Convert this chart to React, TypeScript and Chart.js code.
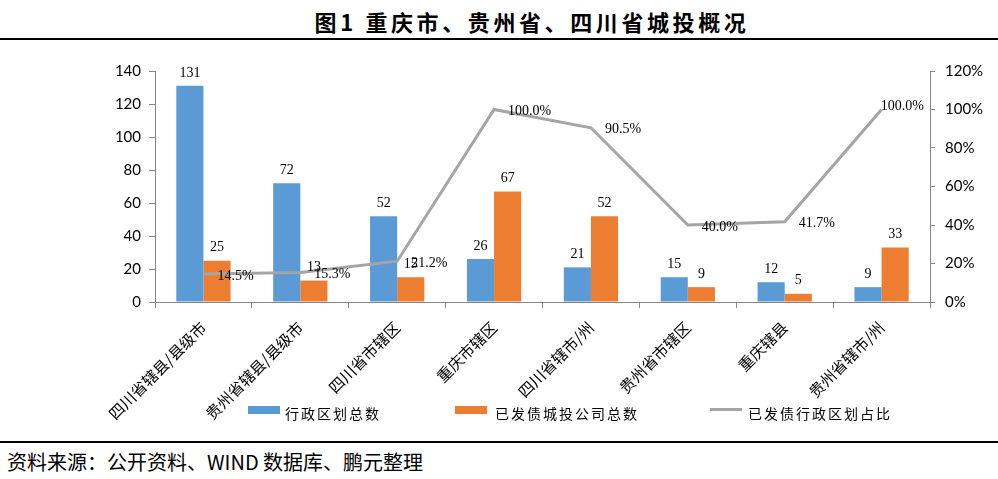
import React, { useEffect, useRef } from "react";
import { Chart, registerables } from "chart.js";

Chart.register(...registerables);

const categories = [
  "四川省辖县/县级市",
  "贵州省辖县/县级市",
  "四川省市辖区",
  "重庆市辖区",
  "四川省辖市/州",
  "贵州省市辖区",
  "重庆辖县",
  "贵州省辖市/州",
];
const adminTotal = [131, 72, 52, 26, 21, 15, 12, 9];
const lgfvTotal = [25, 13, 15, 67, 52, 9, 5, 33];
const issuedRatio = [0.145, 0.153, 0.212, 1.0, 0.905, 0.4, 0.417, 1.0];
const leftTicks = [0, 20, 40, 60, 80, 100, 120, 140];
const rightTicks = [0, 0.2, 0.4, 0.6, 0.8, 1.0, 1.2];

const seriesNames = ["行政区划总数", "已发债城投公司总数", "已发债行政区划占比"];
const titleText = "图1 重庆市、贵州省、四川省城投概况";
const sourceText = "资料来源：公开资料、WIND 数据库、鹏元整理";

const BLUE = "#5B9BD5";
const ORANGE = "#ED7D31";
const GRAY = "#A5A5A5";
const AXIS = "#868686";

const labelPlugin = {
  id: "valueLabels",
  afterDatasetsDraw(chart: any) {
    const ctx = chart.ctx;
    ctx.save();
    ctx.fillStyle = "#000";
    ctx.font = "14px 'Liberation Serif'";
    chart.data.datasets.forEach((ds: any, di: number) => {
      const meta = chart.getDatasetMeta(di);
      if (ds.type === "line") {
        meta.data.forEach((pt: any, i: number) => {
          const txt = (ds.data[i] * 100).toFixed(1) + "%";
          const w = ctx.measureText(txt).width;
          let x = pt.x + 14;
          let y = pt.y + 2;
          const limit = chart.chartArea.right - 6;
          if (x + w > limit) {
            x = limit - w;
            y -= 5;
          }
          ctx.textAlign = "left";
          ctx.textBaseline = "middle";
          ctx.fillText(txt, x, y);
        });
      } else {
        meta.data.forEach((bar: any, i: number) => {
          ctx.textAlign = "center";
          ctx.textBaseline = "bottom";
          ctx.fillText(String(ds.data[i]), bar.x, bar.y - 6);
        });
      }
    });
    ctx.restore();
  },
};

export default function App() {
  const ref = useRef<HTMLCanvasElement>(null);

  useEffect(() => {
    if (!ref.current) return;
    const chart = new Chart(ref.current, {
      type: "bar",
      data: {
        labels: categories,
        datasets: [
          {
            type: "bar",
            label: seriesNames[0],
            data: adminTotal,
            backgroundColor: BLUE,
            yAxisID: "y",
            order: 1,
            categoryPercentage: 0.56,
            barPercentage: 1,
          },
          {
            type: "bar",
            label: seriesNames[1],
            data: lgfvTotal,
            backgroundColor: ORANGE,
            yAxisID: "y",
            order: 1,
            categoryPercentage: 0.56,
            barPercentage: 1,
          },
          {
            type: "line",
            label: seriesNames[2],
            data: issuedRatio,
            borderColor: GRAY,
            backgroundColor: GRAY,
            borderWidth: 3,
            pointRadius: 0,
            tension: 0,
            yAxisID: "y1",
            order: 0,
          },
        ] as any,
      },
      options: {
        responsive: false,
        animation: false,
        devicePixelRatio: 1,
        layout: { padding: { top: 26, left: 0, right: 0, bottom: 0 } },
        plugins: {
          legend: { display: false },
          tooltip: { enabled: false },
          title: { display: false },
        },
        scales: {
          x: {
            afterFit: (s: any) => {
              s.height = 123;
            },
            grid: {
              display: true,
              drawOnChartArea: false,
              drawTicks: true,
              tickLength: 6,
              color: AXIS,
              offset: true,
            },
            border: { display: true, color: AXIS, width: 1 },
            ticks: {
              minRotation: 45,
              maxRotation: 45,
              autoSkip: false,
              padding: 10,
              color: "#000",
              font: { family: "'Noto Sans CJK SC'", size: 15.5 },
            },
          },
          y: {
            position: "left",
            min: 0,
            max: 140,
            afterFit: (s: any) => {
              s.width = 155;
            },
            afterBuildTicks: (s: any) => {
              s.ticks = leftTicks.map((v) => ({ value: v }));
            },
            grid: {
              display: true,
              drawOnChartArea: false,
              drawTicks: true,
              tickLength: 6,
              color: AXIS,
            },
            border: { display: true, color: AXIS, width: 1 },
            ticks: {
              padding: 8,
              color: "#000",
              font: { family: "Lato", size: 15 },
            },
          },
          y1: {
            position: "right",
            min: 0,
            max: 1.2,
            afterFit: (s: any) => {
              s.width = 68;
            },
            afterBuildTicks: (s: any) => {
              s.ticks = rightTicks.map((v) => ({ value: v }));
            },
            grid: {
              display: true,
              drawOnChartArea: false,
              drawTicks: true,
              tickLength: 5,
              color: AXIS,
            },
            border: { display: true, color: AXIS, width: 1 },
            ticks: {
              padding: 10,
              color: "#000",
              font: { family: "Lato", size: 15 },
              callback: (v: any) => Math.round(Number(v) * 100) + "%",
            },
          },
        },
      } as any,
      plugins: [labelPlugin],
    });
    return () => chart.destroy();
  }, []);

  const legendText: React.CSSProperties = {
    position: "absolute",
    top: 403,
    fontFamily: "'Noto Sans CJK SC'",
    fontSize: 14,
    letterSpacing: 2,
    color: "#000",
    lineHeight: "20px",
    whiteSpace: "nowrap",
  };

  return (
    <div
      style={{
        position: "absolute",
        left: 0,
        top: 0,
        width: 998,
        height: 479,
        background: "#fff",
        overflow: "hidden",
      }}
    >
      <div
        style={{
          position: "absolute",
          left: 0,
          top: 6,
          width: 1064,
          textAlign: "center",
          fontFamily: "'Noto Sans CJK SC'",
          fontWeight: 700,
          fontSize: 22,
          letterSpacing: 3.6,
          lineHeight: "30px",
          color: "#000",
          whiteSpace: "pre",
        }}
      >
        {titleText}
      </div>
      <div
        style={{
          position: "absolute",
          left: 0,
          top: 38,
          width: 998,
          height: 2,
          background: "#000",
        }}
      />
      <canvas
        ref={ref}
        width={998}
        height={380}
        style={{ position: "absolute", left: 0, top: 45, width: 998, height: 380 }}
      />
      <div
        style={{
          position: "absolute",
          left: 248,
          top: 406,
          width: 32,
          height: 8,
          background: BLUE,
        }}
      />
      <div style={{ ...legendText, left: 285 }}>{seriesNames[0]}</div>
      <div
        style={{
          position: "absolute",
          left: 455,
          top: 406,
          width: 32,
          height: 8,
          background: ORANGE,
        }}
      />
      <div style={{ ...legendText, left: 495 }}>{seriesNames[1]}</div>
      <div
        style={{
          position: "absolute",
          left: 710,
          top: 408,
          width: 32,
          height: 3,
          background: GRAY,
        }}
      />
      <div style={{ ...legendText, left: 748 }}>{seriesNames[2]}</div>
      <div
        style={{
          position: "absolute",
          left: 0,
          top: 441,
          width: 998,
          height: 2,
          background: "#000",
        }}
      />
      <div
        style={{
          position: "absolute",
          left: 7,
          top: 448,
          fontFamily: "'Noto Sans CJK SC'",
          fontSize: 20,
          lineHeight: "28px",
          color: "#000",
          whiteSpace: "nowrap",
        }}
      >
        {sourceText}
      </div>
    </div>
  );
}
